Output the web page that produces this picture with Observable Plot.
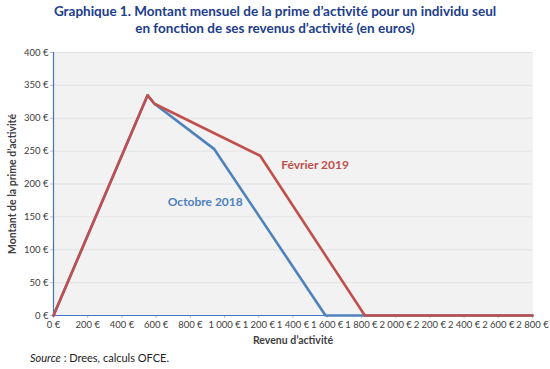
<!DOCTYPE html>
<html><head><meta charset="utf-8">
<script src="https://cdn.jsdelivr.net/npm/d3@7"></script>
<script src="https://cdn.jsdelivr.net/npm/@observablehq/plot@0.6"></script>
<style>
body{margin:0;background:#fff;font-family:Lato,sans-serif;}
#title{position:absolute;left:0;top:3px;width:550px;text-align:center;font-weight:bold;font-size:13.5px;color:#203C8C;line-height:17px;}
#chart{position:absolute;left:0;top:42px;}
#source{position:absolute;left:30px;top:351px;font-size:11px;color:#222;}
</style></head><body>
<div id="title">Graphique 1. Montant mensuel de la prime d’activité pour un individu seul<br>en fonction de ses revenus d’activité (en euros)</div>
<div id="chart"></div>
<div id="source"><i>Source</i> : Drees, calculs OFCE.</div>
<script>
const revenuOct = [0, 550, 590, 940, 1590, 2800];
const primeOct  = [0, 335, 322, 253, 0, 0];
const revenuFev = [0, 550, 590, 1208, 1820, 2800];
const primeFev  = [0, 335, 322, 243, 0, 0];
const xTicks = [0, 200, 400, 600, 800, 1000, 1200, 1400, 1600, 1800, 2000, 2200, 2400, 2600, 2800];
const xTickLabels = ["0\u202F€", "200\u202F€", "400\u202F€", "600\u202F€", "800\u202F€", "1\u202F000\u202F€", "1\u202F200\u202F€", "1\u202F400\u202F€", "1\u202F600\u202F€", "1\u202F800\u202F€", "2\u202F000\u202F€", "2\u202F200\u202F€", "2\u202F400\u202F€", "2\u202F600\u202F€", "2\u202F800\u202F€"];
const yTicks = [0, 50, 100, 150, 200, 250, 300, 350, 400];
const yTickLabels = ["0 €", "50 €", "100 €", "150 €", "200 €", "250 €", "300 €", "350 €", "400 €"];
const seriesNames = ["Octobre 2018", "Février 2019"];
const seriesColors = ["#4F81BD", "#C0504D"];
const labelX = [887, 1529];
const labelY = [172, 229];

const oct = revenuOct.map((x, i) => ({x, y: primeOct[i]}));
const fev = revenuFev.map((x, i) => ({x, y: primeFev[i]}));
const labels = seriesNames.map((name, i) => ({name, x: labelX[i], y: labelY[i], color: seriesColors[i]}));
const xf = d => xTickLabels[xTicks.indexOf(d)];
const yf = d => yTickLabels[yTicks.indexOf(d)];

const chart = Plot.plot({
  width: 550, height: 308,
  marginLeft: 53, marginRight: 18, marginTop: 10, marginBottom: 35,
  x: {domain: [0, 2800]},
  y: {domain: [0, 400]},
  style: {fontFamily: "Lato, sans-serif", fontSize: "9.5px", color: "#404040", background: "white"},
  marks: [
    Plot.frame({fill: "#F2F2F2", stroke: "#F2F2F2"}),
    Plot.gridY(yTicks, {stroke: "#E2E2E2", strokeOpacity: 1}),
    Plot.axisX(xTicks, {tickFormat: xf, tickSize: 3, tickPadding: 3, stroke: "#BFBFBF", label: null}),
    Plot.axisY(yTicks, {tickFormat: yf, tickSize: 3, tickPadding: 2, stroke: "#BFBFBF", label: null}),
    Plot.ruleX([0], {stroke: "#4472C4", strokeWidth: 1.2}),
    Plot.ruleY([0], {stroke: "#4472C4", strokeWidth: 1.2}),
    Plot.line(oct, {x: "x", y: "y", stroke: seriesColors[0], strokeWidth: 2.6}),
    Plot.line(fev, {x: "x", y: "y", stroke: seriesColors[1], strokeWidth: 2.6}),
    Plot.text(labels, {x: "x", y: "y", text: "name", fill: "color", fontWeight: "bold", fontSize: 12}),
    Plot.text(["Revenu d’activité"], {frameAnchor: "bottom", dy: 28, fontWeight: "bold", fontSize: 10.5, fill: "#404040"}),
    Plot.text(["Montant de la prime d’activité"], {frameAnchor: "left", textAnchor: "middle", dx: -41, rotate: -90, fontWeight: "bold", fontSize: 10.5, fill: "#404040"})
  ]
});
document.getElementById("chart").appendChild(chart);
</script>
</body></html>
